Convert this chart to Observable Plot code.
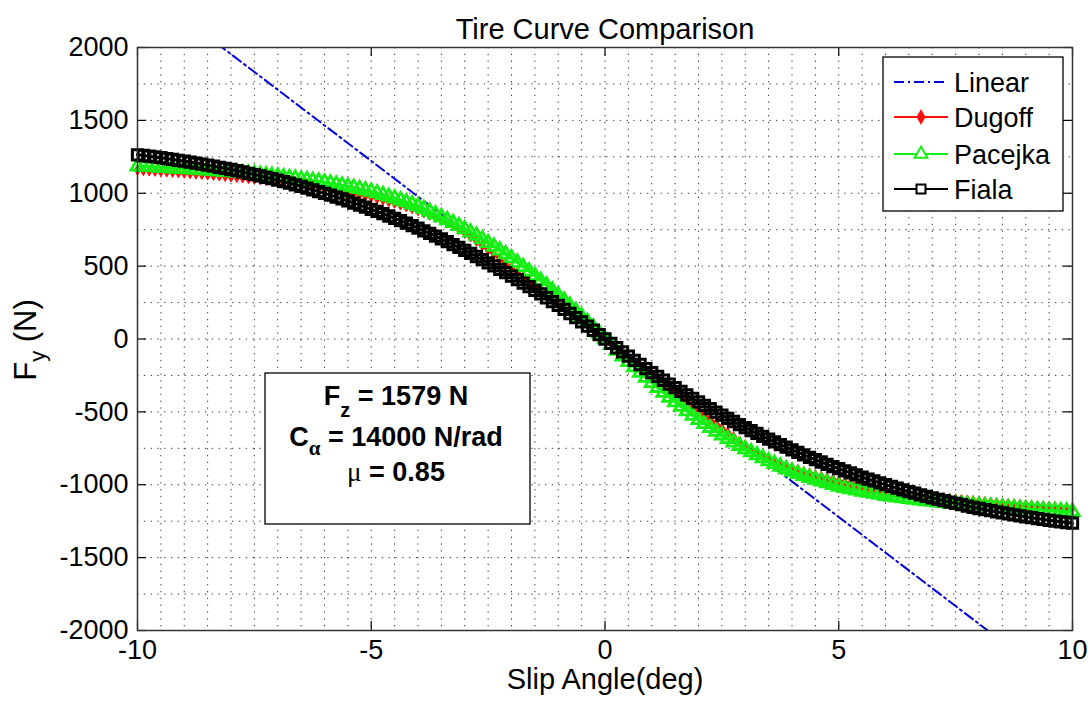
<!DOCTYPE html>
<html>
<head>
<meta charset="utf-8">
<script src="https://cdn.jsdelivr.net/npm/d3@7"></script>
<script src="https://cdn.jsdelivr.net/npm/@observablehq/plot@0.6"></script>
<style>
  html, body { margin: 0; padding: 0; background: #fff; }
  #chart svg { display: block; }
</style>
</head>
<body>
<div id="chart"></div>
<script>
// ---- data ----
const slipAngle = [
-10,-9.875,-9.75,-9.625,-9.5,-9.375,-9.25,-9.125,-9,-8.875,-8.75,-8.625,-8.5,-8.375,-8.25,-8.125,
-8,-7.875,-7.75,-7.625,-7.5,-7.375,-7.25,-7.125,-7,-6.875,-6.75,-6.625,-6.5,-6.375,-6.25,-6.125,
-6,-5.875,-5.75,-5.625,-5.5,-5.375,-5.25,-5.125,-5,-4.875,-4.75,-4.625,-4.5,-4.375,-4.25,-4.125,
-4,-3.875,-3.75,-3.625,-3.5,-3.375,-3.25,-3.125,-3,-2.875,-2.75,-2.625,-2.5,-2.375,-2.25,-2.125,
-2,-1.875,-1.75,-1.625,-1.5,-1.375,-1.25,-1.125,-1,-0.875,-0.75,-0.625,-0.5,-0.375,-0.25,-0.125,
0,
0.125,0.25,0.375,0.5,0.625,0.75,0.875,1,1.125,1.25,1.375,1.5,1.625,1.75,1.875,2,
2.125,2.25,2.375,2.5,2.625,2.75,2.875,3,3.125,3.25,3.375,3.5,3.625,3.75,3.875,4,
4.125,4.25,4.375,4.5,4.625,4.75,4.875,5,5.125,5.25,5.375,5.5,5.625,5.75,5.875,6,
6.125,6.25,6.375,6.5,6.625,6.75,6.875,7,7.125,7.25,7.375,7.5,7.625,7.75,7.875,8,
8.125,8.25,8.375,8.5,8.625,8.75,8.875,9,9.125,9.25,9.375,9.5,9.625,9.75,9.875,10];

const dugoffFy = [
1160,1157,1155,1152,1150,1147,1145,1142,1139,1136,1133,1130,1127,1124,1120,1117,1113,1110,1106,1102,
1098,1094,1089,1085,1080,1075,1070,1065,1060,1054,1048,1042,1036,1030,1023,1016,1008,1000,992,984,
975,965,955,944,933,921,909,896,882,867,851,834,816,797,776,753,728,702,672,642,
611,581,550,519,489,458,428,397,367,336,305,275,244,214,183,153,122,92,61,31,
0,
-31,-61,-92,-122,-153,-183,-214,-244,-275,-305,-336,-367,-397,-428,-458,-489,-519,-550,-581,-611,
-642,-672,-702,-728,-753,-776,-797,-816,-834,-851,-867,-882,-896,-909,-921,-933,-944,-955,-965,-975,
-984,-992,-1000,-1008,-1016,-1023,-1030,-1036,-1042,-1048,-1054,-1060,-1065,-1070,-1075,-1080,-1085,-1089,-1094,-1098,
-1102,-1106,-1110,-1113,-1117,-1120,-1124,-1127,-1130,-1133,-1136,-1139,-1142,-1145,-1147,-1150,-1152,-1155,-1157,-1160];

const pacejkaFy = [
1185,1183,1181,1179,1177,1175,1172,1170,1167,1165,1162,1160,1157,1154,1151,1148,1145,1142,1138,1135,
1131,1128,1124,1120,1116,1111,1106,1101,1096,1091,1086,1081,1075,1068,1061,1054,1046,1038,1030,1021,
1012,1001,989,977,965,952,939,925,910,893,875,856,837,817,797,776,755,732,709,685,
660,635,609,582,555,525,495,464,433,401,368,334,300,265,230,193,156,118,80,40,
0,
-40,-80,-118,-156,-193,-230,-265,-300,-334,-368,-401,-433,-464,-495,-525,-555,-582,-609,-635,-660,
-685,-709,-732,-755,-776,-797,-817,-837,-856,-875,-893,-910,-925,-939,-952,-965,-977,-989,-1001,-1012,
-1021,-1030,-1038,-1046,-1054,-1061,-1068,-1075,-1081,-1086,-1091,-1096,-1101,-1106,-1111,-1116,-1120,-1124,-1128,-1131,
-1135,-1138,-1142,-1145,-1148,-1151,-1154,-1157,-1160,-1162,-1165,-1167,-1170,-1172,-1175,-1177,-1179,-1181,-1183,-1185];

const fialaFy = [
1264,1259,1254,1249,1244,1238,1232,1226,1220,1214,1207,1200,1193,1186,1178,1171,1163,1155,1146,1137,
1128,1119,1109,1100,1090,1080,1069,1058,1047,1035,1023,1011,999,987,974,961,947,933,919,905,
890,875,860,844,828,812,795,778,760,742,724,706,687,668,648,628,608,587,566,545,
523,501,478,455,432,408,384,359,334,309,283,257,230,203,175,147,118,89,60,30,
0,
-30,-60,-89,-118,-147,-175,-203,-230,-257,-283,-309,-334,-359,-384,-408,-432,-455,-478,-501,-523,
-545,-566,-587,-608,-628,-648,-668,-687,-706,-724,-742,-760,-778,-795,-812,-828,-844,-860,-875,-890,
-905,-919,-933,-947,-961,-974,-987,-999,-1011,-1023,-1035,-1047,-1058,-1069,-1080,-1090,-1100,-1109,-1119,-1128,
-1137,-1146,-1155,-1163,-1171,-1178,-1186,-1193,-1200,-1207,-1214,-1220,-1226,-1232,-1238,-1244,-1249,-1254,-1259,-1264];

const linearAngle = [-10, 10];
const linearFy = [2443, -2443];

const xTicks = [-10, -5, 0, 5, 10];
const yTicks = [-2000, -1500, -1000, -500, 0, 500, 1000, 1500, 2000];
const seriesNames = ["Linear", "Dugoff", "Pacejka", "Fiala"];

// ---- build tables ----
const toRows = (ys) => slipAngle.map((a, i) => ({a, f: ys[i]}));
const dugoff = toRows(dugoffFy);
const pacejka = toRows(pacejkaFy);
const fiala = toRows(fialaFy);
const linear = linearAngle.map((a, i) => ({a, f: linearFy[i]}));

const W = 1090, H = 702, mL = 137, mR = 18, mT = 47, mB = 72;
const fw = W - mL - mR, fh = H - mT - mB;
const FONT = "'Liberation Sans', Arial, Helvetica, sans-serif";
const BLUE = "#0000d8", RED = "#ff1010", GREEN = "#16ee16", BLACK = "#000";

const xGrid = d3.range(-9.5, 10, 0.5);
const yGrid = d3.range(-1750, 2000, 250);
const dotted = {stroke: "#000", strokeWidth: 1, strokeDasharray: "1.3,5.5", strokeOpacity: 0.8};

const chart = Plot.plot({
  width: W, height: H,
  marginLeft: mL, marginRight: mR, marginTop: mT, marginBottom: mB,
  style: {fontFamily: FONT, fontSize: "27px", background: "#fff", color: "#000"},
  x: {domain: [-10, 10]},
  y: {domain: [-2000, 2000]},
  marks: [
    Plot.ruleX(xGrid, {x: d => d, ...dotted}),
    Plot.ruleY(yGrid, {y: d => d, ...dotted}),
    Plot.line(linear, {x: "a", y: "f", stroke: BLUE, strokeWidth: 2, strokeDasharray: "10,4,2,4", clip: true}),
    Plot.line(dugoff, {x: "a", y: "f", stroke: RED, strokeWidth: 3}),
    Plot.dot(dugoff, {x: "a", y: "f", symbol: "diamond", r: 3.2, fill: RED, stroke: RED, strokeWidth: 1}),
    Plot.line(pacejka, {x: "a", y: "f", stroke: GREEN, strokeWidth: 3}),
    Plot.dot(pacejka, {x: "a", y: "f", symbol: "triangle", r: 4.9, fill: "none", stroke: GREEN, strokeWidth: 2.8}),
    Plot.line(fiala, {x: "a", y: "f", stroke: BLACK, strokeWidth: 3}),
    Plot.dot(fiala, {x: "a", y: "f", symbol: "square", r: 5.8, fill: "none", stroke: BLACK, strokeWidth: 3}),
    // inward tick marks on all four sides
    Plot.tickX(xTicks, {x: d => d, insetTop: fh - 9, stroke: "#000", strokeWidth: 1.2}),
    Plot.tickX(xTicks, {x: d => d, insetBottom: fh - 9, stroke: "#000", strokeWidth: 1.2}),
    Plot.tickY(yTicks, {y: d => d, insetRight: fw - 9, stroke: "#000", strokeWidth: 1.2}),
    Plot.tickY(yTicks, {y: d => d, insetLeft: fw - 9, stroke: "#000", strokeWidth: 1.2}),
    Plot.frame({stroke: "#333", strokeWidth: 1.5}),
    Plot.axisX({ticks: xTicks, tickSize: 0, tickPadding: 9, label: null, fontSize: 27, tickFormat: d => String(d)}),
    Plot.axisY({ticks: yTicks, tickSize: 0, tickPadding: 9, label: null, fontSize: 27, tickFormat: d => String(d)}),
    Plot.text(["Tire Curve Comparison"], {frameAnchor: "top", dy: -29, fontSize: 29, text: d => d}),
    Plot.text(["Slip Angle(deg)"], {frameAnchor: "bottom", dy: 58, fontSize: 29, text: d => d})
  ]
});

document.getElementById("chart").append(chart);
const svg = d3.select(chart);

// y-axis label with subscript
const yl = svg.append("text")
  .attr("transform", "translate(36,340) rotate(-90)")
  .attr("text-anchor", "middle")
  .style("font-family", FONT).style("font-size", "31px").attr("fill", "#000");
yl.append("tspan").text("F");
yl.append("tspan").attr("dy", 9).style("font-size", "22px").text("y");
yl.append("tspan").attr("dy", -9).text(" (N)");

// parameter box
const box = svg.append("g").style("font-family", FONT).style("font-weight", "bold").style("font-size", "27px");
box.append("rect").attr("x", 265).attr("y", 373).attr("width", 265).attr("height", 151)
  .attr("fill", "#fff").attr("stroke", "#000").attr("stroke-width", 1.3);
const l1 = box.append("text").attr("x", 396).attr("y", 405).attr("text-anchor", "middle");
l1.append("tspan").text("F");
l1.append("tspan").attr("dy", 12).style("font-size", "20px").text("z");
l1.append("tspan").attr("dy", -12).text(" = 1579 N");
const l2 = box.append("text").attr("x", 396).attr("y", 446).attr("text-anchor", "middle");
l2.append("tspan").text("C");
l2.append("tspan").attr("dy", 9).style("font-size", "21px").style("font-family", "'Liberation Serif', serif").text("α");
l2.append("tspan").attr("dy", -9).text(" = 14000 N/rad");
const l3 = box.append("text").attr("x", 396).attr("y", 481).attr("text-anchor", "middle");
l3.append("tspan").style("font-family", "'Liberation Serif', serif").style("font-weight", "normal").text("μ");
l3.append("tspan").text(" = 0.85");

// legend
const lg = svg.append("g").style("font-family", FONT).style("font-size", "27px");
lg.append("rect").attr("x", 883).attr("y", 57).attr("width", 180).attr("height", 154)
  .attr("fill", "#fff").attr("stroke", "#000").attr("stroke-width", 1.3);
const rowsY = [82, 117, 154, 189];
const styles = [
  {stroke: BLUE, dash: "10,4,2,4", sym: null},
  {stroke: RED, dash: null, sym: d3.symbolDiamond, size: 40, fill: RED},
  {stroke: GREEN, dash: null, sym: d3.symbolTriangle, size: 70, fill: "#fff"},
  {stroke: BLACK, dash: null, sym: d3.symbolSquare, size: 80, fill: "#fff"}
];
seriesNames.forEach((name, i) => {
  const y = rowsY[i], s = styles[i];
  lg.append("line").attr("x1", 894).attr("x2", 948).attr("y1", y).attr("y2", y)
    .attr("stroke", s.stroke).attr("stroke-width", 2).attr("stroke-dasharray", s.dash);
  if (s.sym) {
    lg.append("path").attr("d", d3.symbol(s.sym, s.size)()).attr("transform", `translate(921,${y})`)
      .attr("fill", s.fill).attr("stroke", s.stroke).attr("stroke-width", 2);
  }
  lg.append("text").attr("x", 954).attr("y", y + 10).attr("text-anchor", "start").text(name);
});
</script>
</body>
</html>
